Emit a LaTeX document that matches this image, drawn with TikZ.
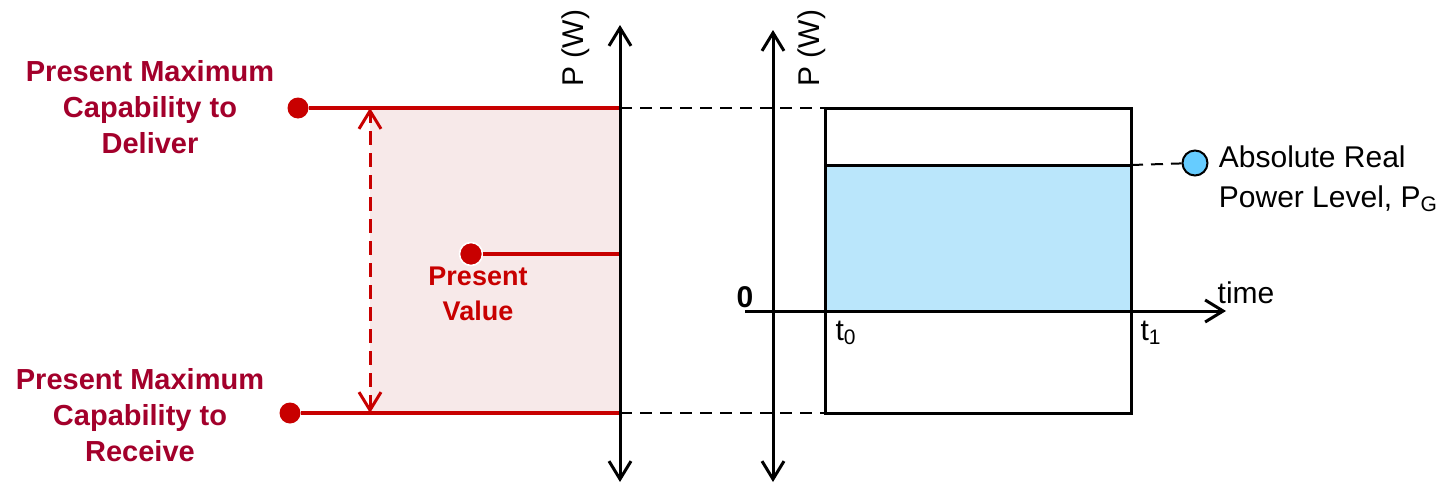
\documentclass[tikz,border=0pt]{standalone}
\usepackage{fontspec}
\setmainfont{Liberation Sans}
\usetikzlibrary{arrows.meta, positioning}
\definecolor{ink}     {HTML}{000000}
\definecolor{capred}  {HTML}{A3002B}
\definecolor{linered} {HTML}{C80000}
\definecolor{pinkfill}{HTML}{F7E9E9}
\definecolor{bluefill}{HTML}{BAE6FB}
\definecolor{dotblue} {HTML}{66CCFF}
\tikzset{
  barb/.tip     = {Straight Barb[length=9pt, width=11pt]},
  axis/.style   = {line width=1.5pt, ink},
  frame/.style  = {line width=1.5pt, ink},
  level/.style  = {line width=1.8pt, linered},
  guide/.style  = {line width=1pt, ink, dash pattern=on 6pt off 4pt},
  span/.style   = {line width=1.5pt, linered, dash pattern=on 7pt off 4pt,
                   barb-barb},
  dot/.style    = {circle, fill=linered, inner sep=0pt, minimum size=10.5pt},
  pgdot/.style  = {circle, draw=ink, line width=1pt, fill=dotblue,
                   inner sep=0pt, minimum size=12.5pt},
  captext/.style = {font=\bfseries\fontsize{14.5}{18}\selectfont,
                   text=capred, align=center},
  pval/.style   = {font=\bfseries\fontsize{13.5}{17.5}\selectfont,
                   text=linered, align=center},
  lab/.style    = {font=\fontsize{15}{20}\selectfont, text=ink, inner sep=1pt},
}

\begin{document}
\begin{tikzpicture}[x=0.5pt, y=-0.5pt]
  \useasboundingbox (0,0) rectangle (1436,487);

  % left panel: capability band
  \coordinate (hi) at (620,108);
  \coordinate (lo) at (620,413);
  \coordinate (now) at (620,254);
  \fill[pinkfill] (370,108) rectangle (lo);
  \node[dot] (dhi) at (298,108) {};
  \node[dot] (dlo) at (290,413) {};
  \node[dot, draw=white, line width=0.8pt, minimum size=11.5pt] (dnow) at (471,254) {};
  \draw[level] (dhi) -- (hi);
  \draw[level] (dlo) -- (lo);
  \draw[level] (dnow) -- (now);
  \coordinate (spanhi) at (370,108);
  \coordinate (spanlo) at (370,413);
  \draw[span] (spanlo) -- (spanhi);

  \node[captext] (deliver) at (150,107) {Present Maximum\\Capability to\\Deliver};
  \node[captext] (receive) at (140,415) {Present Maximum\\Capability to\\Receive};
  \node[pval] (present) at (478,294) {Present\\Value};

  % left axis
  \coordinate (ltop) at (620,25);
  \coordinate (lbot) at (620,482);
  \draw[axis, barb-barb] (lbot) -- (ltop);
  \node[lab, rotate=90] (lpw) at (576,48) {P (W)};

  % right panel: real power block
  \coordinate (t0) at (825,311);
  \coordinate (t1) at (1131,311);
  \coordinate (pg) at (1131,165);
  \fill[bluefill] (825,165) rectangle (t1);
  \draw[frame] (825,108) rectangle (1131,413);
  \draw[frame] (825,165) -- (pg);

  \draw[guide] (hi) -- (825,108);
  \draw[guide] (lo) -- (825,413);

  \coordinate (rtop) at (773,30);
  \coordinate (rbot) at (773,482);
  \draw[axis, barb-barb] (rbot) -- (rtop);
  \node[lab, rotate=90] (rpw) at (812,48) {P (W)};

  \coordinate (tstart) at (745,311);
  \coordinate (tend) at (1226,311);
  \draw[axis, -barb] (tstart) -- (tend);
  \node[lab] (time) at (1246,293) {time};
  \node[lab, font=\bfseries\fontsize{15}{20}\selectfont] (zero) at (745,297) {0};
  \node[lab] (t0lab) at (846,333) {t\textsubscript{0}};
  \node[lab] (t1lab) at (1151,333) {t\textsubscript{1}};

  \node[pgdot] (pgdot) at (1195,163) {};
  \draw[guide] (pg) -- (pgdot);
  \node[lab, right=4pt of pgdot, align=left, anchor=north west,
        yshift=10pt] (pglab) {Absolute Real\\Power Level, P\textsubscript{G}};
\end{tikzpicture}
\end{document}
